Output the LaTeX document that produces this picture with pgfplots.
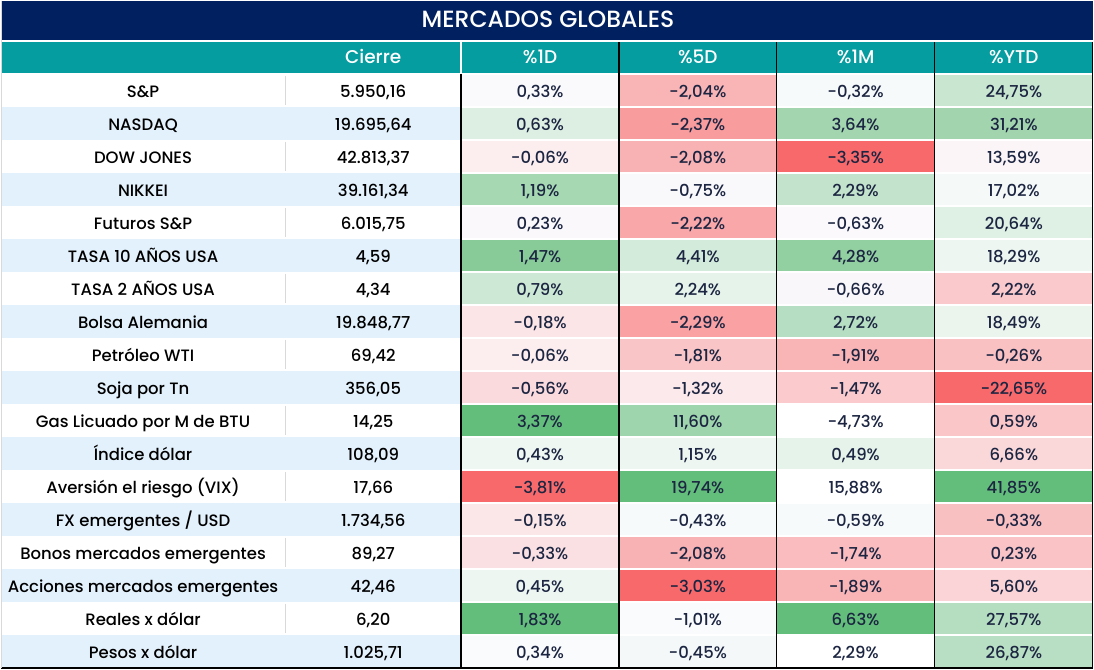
\documentclass[border=0pt]{standalone}
\usepackage{pgfplots}
\pgfplotsset{compat=1.18}
\usepackage{fontspec}
\setmainfont{Poppins}[UprightFont={* Medium}]
\definecolor{navy}{HTML}{012060}
\definecolor{teal}{HTML}{069DA0}
\definecolor{zebra}{HTML}{E3F1FC}
\definecolor{valc}{HTML}{1C2541}
\definecolor{gline}{HTML}{D9D9D9}
\newcommand\lab[4]{% top, name, cierre, bg
  \fill[#4] (axis cs:0,#1) rectangle (axis cs:461,{#1+33.05});
  \node[anchor=base,inner sep=0pt,font=\fontsize{16.5}{20}\selectfont,text=black] at (axis cs:142.5,{#1+24}) {#2};
  \node[anchor=base,inner sep=0pt,font=\fontsize{16.5}{20}\selectfont,text=black] at (axis cs:373,{#1+24}) {#3};}
\newcommand\gl[1]{\draw[gline,line width=1pt] (axis cs:285,{#1+2}) -- (axis cs:285,{#1+31});}
\newcommand\hd[2]{\node[anchor=base,inner sep=0pt,font=\fontsize{18.5}{22}\selectfont,text=white] at (axis cs:#1,64) {#2};}
\newcommand\vl[1]{\draw[black,line width=1.3pt] (axis cs:#1,42.5) -- (axis cs:#1,669);}
\newcommand\val[5]{% x0, x1, top, hex, text
  \fill[/utils/exec={\definecolor{tmpc}{HTML}{#4}},fill=tmpc] (axis cs:#1,{#3+1}) rectangle (axis cs:#2,{#3+32});
  \node[anchor=base,inner sep=0pt,font=\fontsize{16.5}{20}\selectfont,text=valc] at (axis cs:{(#1+#2)/2},{#3+24}) {#5};}
\begin{document}
\begin{tikzpicture}
\begin{axis}[width=1094pt,height=670pt,scale only axis,xmin=0,xmax=1094,ymin=0,ymax=670,y dir=reverse,hide axis,clip=false]
\path (axis cs:0,0) rectangle (axis cs:1094,670);
% title
\fill[navy] (axis cs:0,0.5) rectangle (axis cs:1094,40.5);
\node[anchor=base,inner sep=0pt,font=\fontsize{23.5}{26}\selectfont,text=white] at (axis cs:548,28) {MERCADOS GLOBALES};
% header
\fill[teal] (axis cs:0,42.5) rectangle (axis cs:1094,73);
\draw[white,line width=2pt] (axis cs:461,42.5) -- (axis cs:461,73);
\hd{373}{Cierre}
\hd{540}{\%1D}
\hd{698}{\%5D}
\hd{856}{\%1M}
\hd{1014.5}{\%YTD}
% label columns
\lab{74.0}{S\&P}{5.950,16}{white}
\lab{107.05}{NASDAQ}{19.695,64}{zebra}
\lab{140.1}{DOW JONES}{42.813,37}{white}
\lab{173.15}{NIKKEI}{39.161,34}{zebra}
\lab{206.2}{Futuros S\&P}{6.015,75}{white}
\lab{239.25}{TASA 10 AÑOS USA}{4,59}{zebra}
\lab{272.3}{TASA 2 AÑOS USA}{4,34}{white}
\lab{305.35}{Bolsa Alemania}{19.848,77}{zebra}
\lab{338.4}{Petróleo WTI}{69,42}{white}
\lab{371.45}{Soja por Tn}{356,05}{zebra}
\lab{404.5}{Gas Licuado por M de BTU}{14,25}{white}
\lab{437.55}{Índice dólar}{108,09}{zebra}
\lab{470.6}{Aversión el riesgo (VIX)}{17,66}{white}
\lab{503.65}{FX emergentes / USD}{1.734,56}{zebra}
\lab{536.7}{Bonos mercados emergentes}{89,27}{white}
\lab{569.75}{Acciones mercados emergentes}{42,46}{zebra}
\lab{602.8}{Reales x dólar}{6,20}{white}
\lab{635.85}{Pesos x dólar}{1.025,71}{zebra}
\gl{74.0}\gl{140.1}\gl{206.2}\gl{272.3}\gl{338.4}\gl{404.5}\gl{470.6}\gl{536.7}\gl{602.8}
% %1D
\val{461}{619}{74.0}{FAFAFD}{0,33\%}
\val{461}{619}{107.05}{DDEEE2}{0,63\%}
\val{461}{619}{140.1}{FCEDEF}{-0,06\%}
\val{461}{619}{173.15}{A6D8B2}{1,19\%}
\val{461}{619}{206.2}{FBF8FB}{0,23\%}
\val{461}{619}{239.25}{88CB98}{1,47\%}
\val{461}{619}{272.3}{CDE8D5}{0,79\%}
\val{461}{619}{305.35}{FBE5E7}{-0,18\%}
\val{461}{619}{338.4}{FCEDEE}{-0,06\%}
\val{461}{619}{371.45}{FADADC}{-0,56\%}
\val{461}{619}{404.5}{63BE7B}{3,37\%}
\val{461}{619}{437.55}{EFF7F3}{0,43\%}
\val{461}{619}{470.6}{F8696B}{-3,81\%}
\val{461}{619}{503.65}{FBE6E8}{-0,15\%}
\val{461}{619}{536.7}{FAE0E2}{-0,33\%}
\val{461}{619}{569.75}{EDF6F1}{0,45\%}
\val{461}{619}{602.8}{63BE7B}{1,83\%}
\val{461}{619}{635.85}{FAFBFD}{0,34\%}
% %5D
\val{619}{777}{74.0}{F9B4B6}{-2,04\%}
\val{619}{777}{107.05}{F89C9E}{-2,37\%}
\val{619}{777}{140.1}{F9B2B4}{-2,08\%}
\val{619}{777}{173.15}{F9F9FC}{-0,75\%}
\val{619}{777}{206.2}{F9A7A9}{-2,22\%}
\val{619}{777}{239.25}{D3EBDA}{4,41\%}
\val{619}{777}{272.3}{E5F3EA}{2,24\%}
\val{619}{777}{305.35}{F9A1A3}{-2,29\%}
\val{619}{777}{338.4}{FAC5C7}{-1,81\%}
\val{619}{777}{371.45}{FBE9EB}{-1,32\%}
\val{619}{777}{404.5}{9FD5AC}{11,60\%}
\val{619}{777}{437.55}{EDF6F1}{1,15\%}
\val{619}{777}{470.6}{63BE7B}{19,74\%}
\val{619}{777}{503.65}{F7FAFB}{-0,43\%}
\val{619}{777}{536.7}{F9B2B4}{-2,08\%}
\val{619}{777}{569.75}{F8696B}{-3,03\%}
\val{619}{777}{602.8}{FAFBFD}{-1,01\%}
\val{619}{777}{635.85}{F4F8F8}{-0,45\%}
% %1M
\val{777}{935}{74.0}{F7FAFB}{-0,32\%}
\val{777}{935}{107.05}{A3D6AF}{3,64\%}
\val{777}{935}{140.1}{F8696B}{-3,35\%}
\val{777}{935}{173.15}{C3E3CC}{2,29\%}
\val{777}{935}{206.2}{FBF9FC}{-0,63\%}
\val{777}{935}{239.25}{92CFA1}{4,28\%}
\val{777}{935}{272.3}{FAF7FA}{-0,66\%}
\val{777}{935}{305.35}{B6DEC2}{2,72\%}
\val{777}{935}{338.4}{F9B4B6}{-1,91\%}
\val{777}{935}{371.45}{FACACC}{-1,47\%}
\val{777}{935}{404.5}{FFFFFF}{-4,73\%}
\val{777}{935}{437.55}{E6F3EA}{0,49\%}
\val{777}{935}{470.6}{FFFFFF}{15,88\%}
\val{777}{935}{503.65}{F7FAFB}{-0,59\%}
\val{777}{935}{536.7}{FABCBE}{-1,74\%}
\val{777}{935}{569.75}{F9B4B6}{-1,89\%}
\val{777}{935}{602.8}{63BE7B}{6,63\%}
\val{777}{935}{635.85}{FFFFFF}{2,29\%}
% %YTD
\val{935}{1094}{74.0}{C8E6D0}{24,75\%}
\val{935}{1094}{107.05}{A2D5AE}{31,21\%}
\val{935}{1094}{140.1}{FCF5F7}{13,59\%}
\val{935}{1094}{173.15}{F5F9F7}{17,02\%}
\val{935}{1094}{206.2}{DFF0E4}{20,64\%}
\val{935}{1094}{239.25}{EDF6F0}{18,29\%}
\val{935}{1094}{272.3}{FAC9CB}{2,22\%}
\val{935}{1094}{305.35}{EBF5EE}{18,49\%}
\val{935}{1094}{338.4}{FAC1C3}{-0,26\%}
\val{935}{1094}{371.45}{F8696B}{-22,65\%}
\val{935}{1094}{404.5}{FAC6C8}{0,59\%}
\val{935}{1094}{437.55}{FAD8DA}{6,66\%}
\val{935}{1094}{470.6}{63BE7B}{41,85\%}
\val{935}{1094}{503.65}{F9C0C2}{-0,33\%}
\val{935}{1094}{536.7}{FAC3C5}{0,23\%}
\val{935}{1094}{569.75}{FAD4D6}{5,60\%}
\val{935}{1094}{602.8}{B5DDC0}{27,57\%}
\val{935}{1094}{635.85}{B8DFC3}{26,87\%}
% grid lines
\draw[black,line width=1.3pt] (axis cs:461,74) -- (axis cs:461,669);
\vl{619}\vl{777}\vl{935}
\draw[black,line width=1.5pt] (axis cs:0,669) -- (axis cs:1094,669);
\draw[black,line width=1.5pt] (axis cs:1093.2,42.5) -- (axis cs:1093.2,669.5);
\draw[gline,line width=1pt] (axis cs:0.5,0.5) -- (axis cs:0.5,669);
\end{axis}
\end{tikzpicture}
\end{document}
